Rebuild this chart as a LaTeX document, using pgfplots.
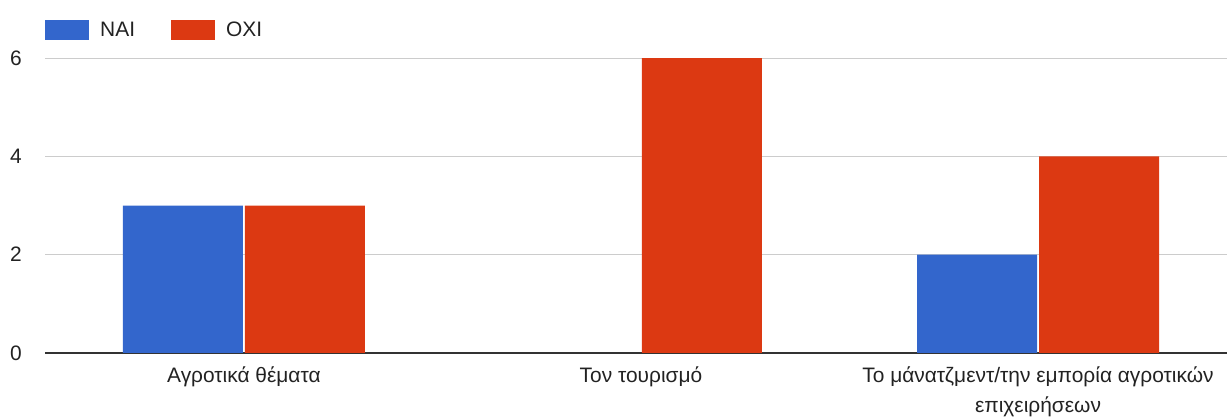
\documentclass[border=0pt]{standalone}
\usepackage{pgfplots}
\pgfplotsset{compat=1.18}
\usepackage{fontspec}
\setmainfont{Liberation Sans}
\definecolor{naiblue}{HTML}{3366CC}
\definecolor{oxired}{HTML}{DC3912}
\definecolor{txt}{HTML}{222222}
\definecolor{gridc}{HTML}{CCCCCC}
\definecolor{basec}{HTML}{333333}
\begin{document}
\begin{tikzpicture}
\path[use as bounding box] (0,0) rectangle (1227bp,418bp);
\begin{axis}[
  at={(45bp,65bp)}, anchor=south west,
  scale only axis, width=1182bp, height=353bp,
  xmin=-0.501, xmax=2.476, ymin=0, ymax=7.18,
  ybar=2bp, bar width=120bp,
  axis line style={draw=none},
  major tick length=0pt,
  xtick={0,1,2},
  xticklabels={Αγροτικά θέματα,Τον τουρισμό,{Το μάνατζμεντ/την εμπορία αγροτικών\\επιχειρήσεων}},
  xticklabel style={align=center, anchor=north, inner sep=0pt, yshift=-14bp, font=\fontsize{21}{30}\selectfont, text=txt},
  ytick={2,4,6},
  extra y ticks={0},
  extra y tick style={grid style={color=basec, line width=1.5bp}},
  ymajorgrids,
  grid style={color=gridc, line width=1bp},
  yticklabel style={anchor=east, inner sep=0pt, xshift=-23bp, font=\fontsize{21}{25}\selectfont, text=txt},
  /pgf/number format/assume math mode=true,
  legend columns=2,
  legend style={at={(rel axis cs:0,1)}, anchor=north west, yshift=-20bp, draw=none, fill=none, inner sep=0pt,
    font=\fontsize{21}{25}\selectfont, text=txt,
    nodes={inner sep=0pt, anchor=west},
    /tikz/every odd column/.append style={column sep=11bp},
    /tikz/every even column/.append style={column sep=36bp}},
  legend image code/.code={\fill[#1] (0bp,-10bp) rectangle (44bp,10bp);},
]
\addplot[fill=naiblue, draw=none] coordinates {(0,3) (1,0) (2,2)};
\addplot[fill=oxired, draw=none] coordinates {(0,3) (1,6) (2,4)};
\legend{NAI,OXI}
\end{axis}
\end{tikzpicture}
\end{document}
